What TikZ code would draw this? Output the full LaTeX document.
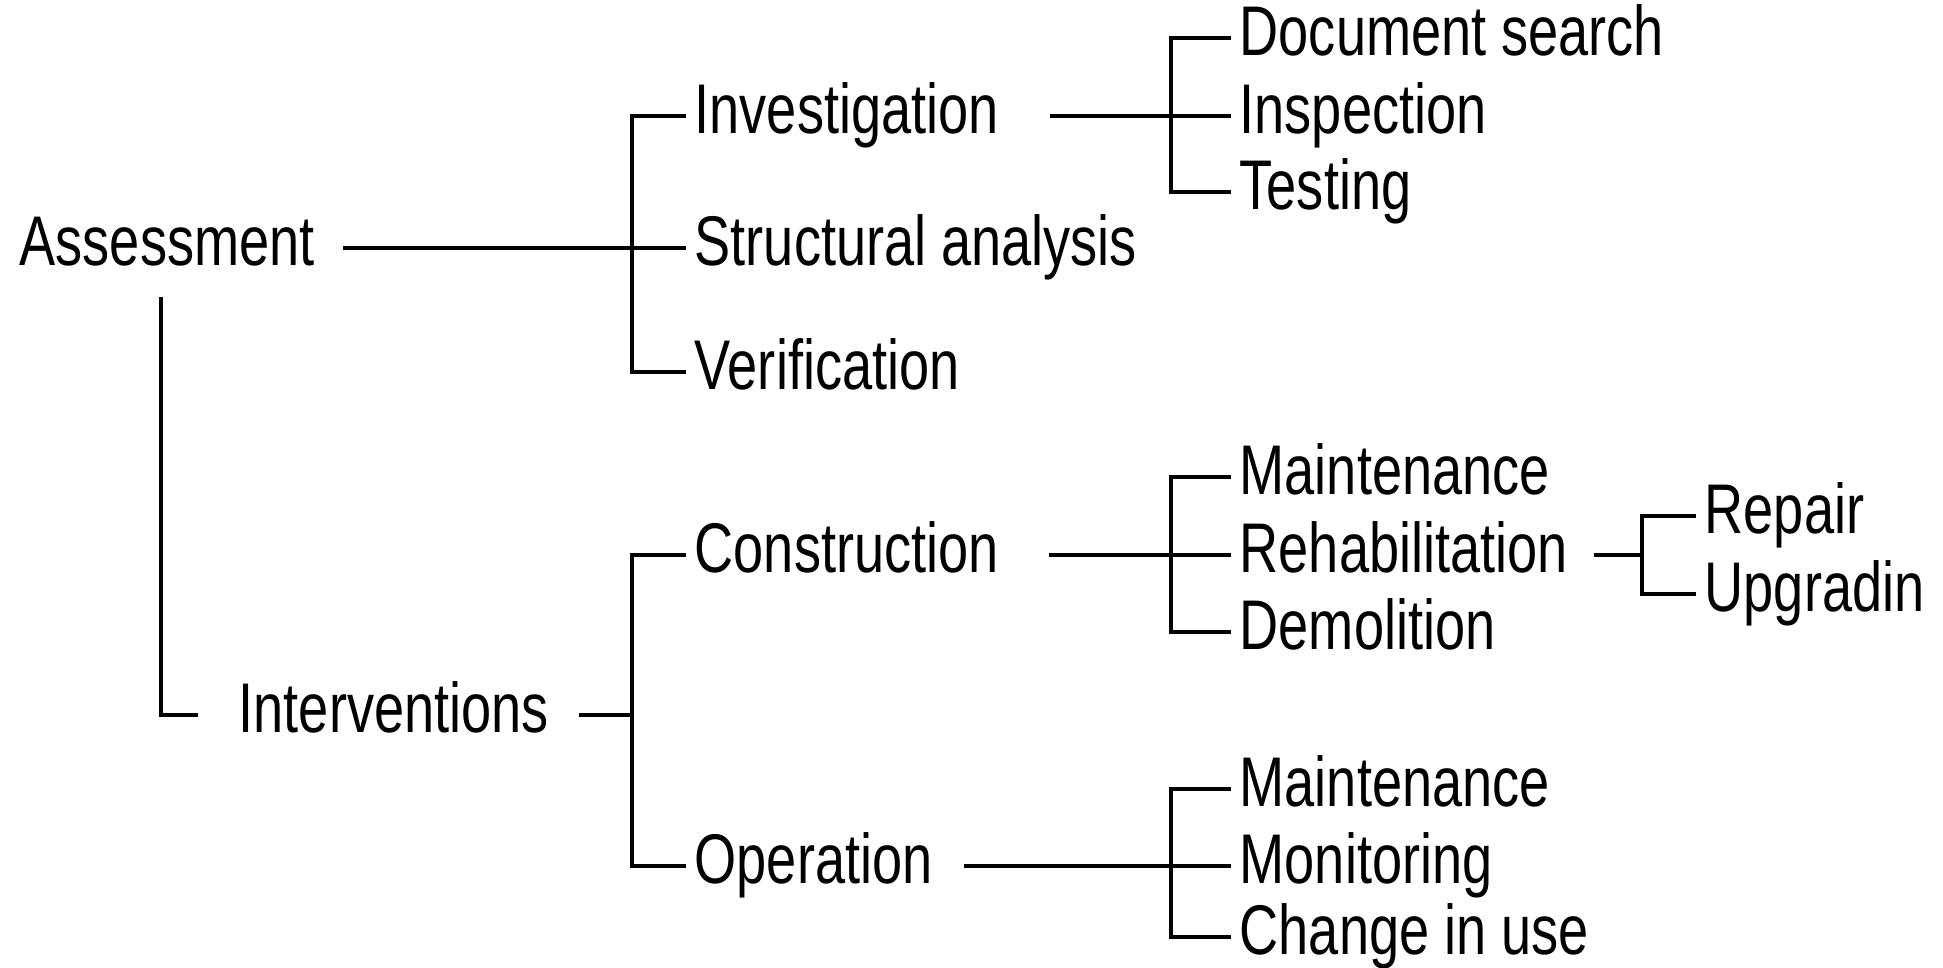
\documentclass[tikz,border=0pt]{standalone}
\usepackage{fontspec}
\setmainfont{Liberation Sans}[FakeStretch=0.77]
\usetikzlibrary{positioning}
\begin{document}
\begin{tikzpicture}[x=0.01cm, y=-0.01cm, every node/.style={font=\fontsize{20}{24}\selectfont}]
\tikzset{item/.style={anchor=west, inner xsep=0.08cm, inner ysep=0pt, text height=14pt, text depth=4pt}}
\tikzset{br/.style={line width=1.1pt}}
\useasboundingbox (0,0) rectangle (1943,968);
\node[item] (asm) at (11,248) {Assessment};
\node[item] (inv) at (686,116) {Investigation};
\node[item] (sta) at (686,248) {Structural analysis};
\node[item] (ver) at (686,372) {Verification};
\node[item] (doc) at (1231,38) {Document search};
\node[item] (ins) at (1231,116) {Inspection};
\node[item] (tst) at (1231,192) {Testing};
\node[item] (itv) at (230,715) {Interventions};
\node[item] (con) at (686,555) {Construction};
\node[item] (opr) at (686,866) {Operation};
\node[item] (mnt) at (1231,477) {Maintenance};
\node[item] (reh) at (1231,555) {Rehabilitation};
\node[item] (dem) at (1231,632) {Demolition};
\node[item] (rep) at (1696,516) {Repair};
\node[item] (upg) at (1696,594) {Upgradin};
\node[item] (mnt2) at (1231,789) {Maintenance};
\node[item] (mon) at (1231,866) {Monitoring};
\node[item] (chg) at (1231,937) {Change in use};
\coordinate (b1) at (632,248);
\coordinate (b2) at (1171,116);
\coordinate (b3) at (632,715);
\coordinate (b4) at (1171,555);
\coordinate (b5) at (1642,555);
\coordinate (b6) at (1171,866);
\coordinate (av) at (161,297);
\draw[br] (inv.west) -| (b1) |- (ver.west);
\draw[br] (sta.west) -- (b1);
\draw[br, shorten <=0.2cm] (asm.east) -- (b1);
\draw[br] (doc.west) -| (b2) |- (tst.west);
\draw[br] (ins.west) -- (b2);
\draw[br, shorten <=0.42cm] (inv.east) -- (b2);
\draw[br, shorten >=0.32cm] (av) |- (itv.west);
\draw[br] (con.west) -| (b3) |- (opr.west);
\draw[br, shorten <=0.21cm] (itv.east) -- (b3);
\draw[br] (mnt.west) -| (b4) |- (dem.west);
\draw[br] (reh.west) -- (b4);
\draw[br, shorten <=0.42cm] (con.east) -- (b4);
\draw[br] (rep.west) -| (b5) |- (upg.west);
\draw[br, shorten <=0.17cm] (reh.east) -- (b5);
\draw[br] (mnt2.west) -| (b6) |- (chg.west);
\draw[br] (mon.west) -- (b6);
\draw[br, shorten <=0.23cm] (opr.east) -- (b6);
\end{tikzpicture}
\end{document}
